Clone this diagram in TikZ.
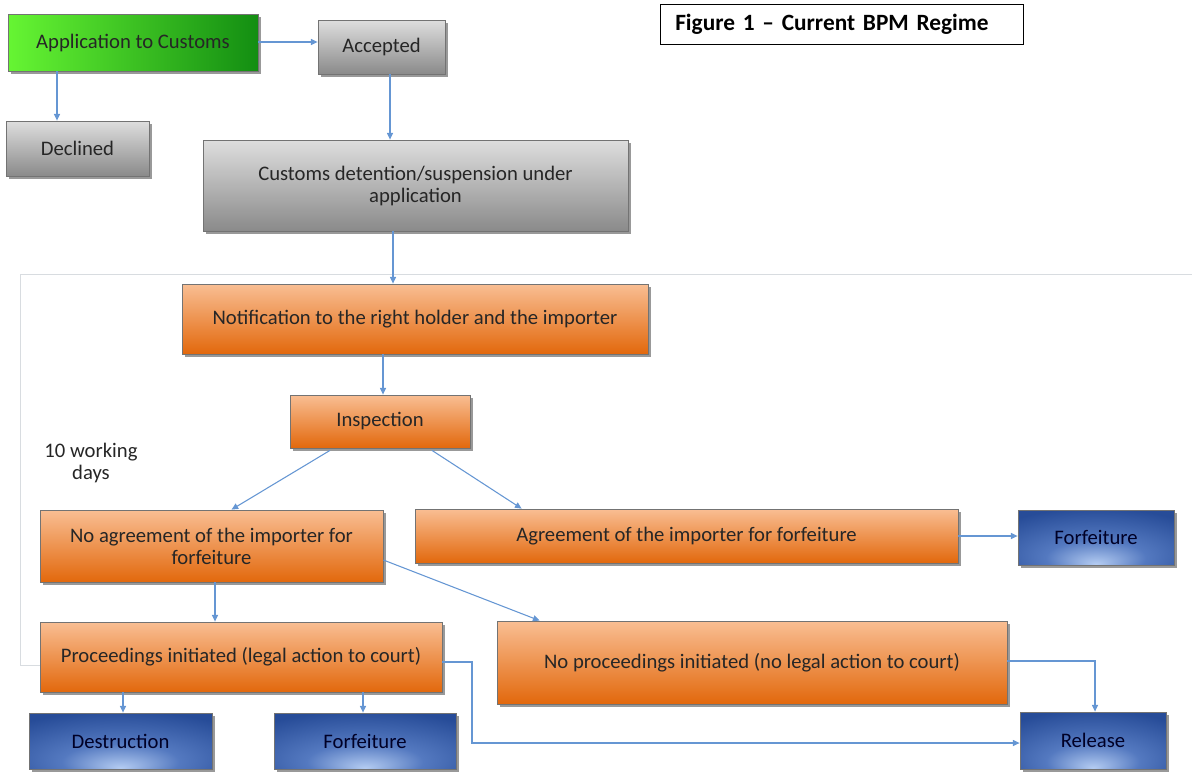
\documentclass[tikz,border=0pt]{standalone}
\usepackage{fontspec}
\setmainfont{Carlito}
\usetikzlibrary{arrows.meta,shadows,calc}
\definecolor{grnA}{HTML}{66F533}
\definecolor{grnB}{HTML}{138E12}
\definecolor{gryA}{HTML}{DEDEDE}
\definecolor{gryB}{HTML}{8A8A8A}
\definecolor{orgA}{HTML}{F9BE93}
\definecolor{orgB}{HTML}{E2680C}
\definecolor{bluO}{HTML}{274C98}
\definecolor{bluM}{HTML}{5479C0}
\definecolor{bluI}{HTML}{B4CCF2}
\definecolor{arr}{HTML}{6596D3}
\definecolor{frm}{HTML}{D8DCE0}
\pgfdeclareradialshading{bluespot}{\pgfpoint{0bp}{-24bp}}{color(0bp)=(bluI); color(16bp)=(bluM); color(38bp)=(bluO); color(70bp)=(bluO)}
\newcommand\bx[7]{\node[#1, minimum width={(#5-#3)*0.75pt}, minimum height={(#6-#4)*0.75pt}] (#2) at ({(#3+#5)/2},{(#4+#6)/2}) {#7};}
\begin{document}
\begin{tikzpicture}[x=0.75pt,y=-0.75pt,
  box/.style={draw=black!55, line width=0.6pt, inner sep=0pt, align=center,
    font=\fontsize{15.5}{16.5}\selectfont, text=black!85,
    drop shadow={shadow xshift=2pt, shadow yshift=-2pt, opacity=0.4, fill=black}},
  greenbox/.style={box, left color=grnA, right color=grnB},
  graybox/.style={box, top color=gryA, bottom color=gryB},
  orangebox/.style={box, top color=orgA, bottom color=orgB},
  bluebox/.style={box, shading=bluespot, text=black!85!blue},
  conn/.style={draw=arr, line width=0.8pt, -{Triangle[length=5pt,width=4.5pt]}},
]
\useasboundingbox (0,0) rectangle (1192,771);

% frame line
\draw[frm, line width=0.7pt] (1192,274) -- (20,274) -- (20,665) -- (40,665);

% title
\node[draw=black, line width=0.9pt, fill=white, anchor=north west, minimum width=272pt, minimum height=30pt,
  inner xsep=11pt, text width=250pt, align=left, font=\fontsize{17.5}{20}\selectfont\bfseries] (title) at (660,4) {Figure 1 -- Current BPM Regime};

% nodes
\bx{greenbox}{app}{8}{14}{258}{71}{Application to Customs}
\bx{graybox}{acc}{318}{20}{445}{74}{Accepted}
\bx{graybox}{dec}{6}{121}{149}{176}{Declined}
\bx{graybox}{det}{203}{140}{628}{231}{Customs detention/suspension under\\application}
\bx{orangebox}{note}{182}{284}{648}{354}{Notification to the right holder and the importer}
\bx{orangebox}{insp}{290}{395}{470}{448}{Inspection}
\bx{orangebox}{noagr}{40}{510}{383}{582}{No agreement of the importer for\\forfeiture}
\bx{orangebox}{agr}{415}{509}{958}{563}{Agreement of the importer for forfeiture}
\bx{bluebox}{forf1}{1018}{510}{1174}{565}{Forfeiture}
\bx{orangebox}{proc}{40}{622}{442}{692}{Proceedings initiated (legal action to court)}
\bx{orangebox}{noproc}{497}{621}{1007}{704}{No proceedings initiated (no legal action to court)}
\bx{bluebox}{destr}{29}{713}{212}{769}{Destruction}
\bx{bluebox}{forf2}{274}{713}{456}{769}{Forfeiture}
\bx{bluebox}{rel}{1020}{712}{1166}{769}{Release}

\node[font=\fontsize{15.5}{16.5}\selectfont, align=center, text=black!85] (days) at (91,463) {10 working\\days};

% connectors
\draw[conn] (app.east |- 0,42) -- (acc.west |- 0,42);
\draw[conn] (app.south -| 57,0) -- (dec.north -| 57,0);
\draw[conn] (acc.south -| 390,0) -- (det.north -| 390,0);
\draw[conn] (det.south -| 393,0) -- (note.north -| 393,0);
\draw[conn] (note.south -| 383,0) -- (insp.north -| 383,0);
\draw[conn] ($(insp.south)+(-50,2)$) -- ($(noagr.north)+(20,0)$);
\draw[conn] ($(insp.south)+(52,2)$) -- ($(agr.north west)+(107,0)$);
\draw[conn] (agr.east) -- (forf1.west |- agr.east);
\draw[conn] (noagr.south -| 215,0) -- (proc.north -| 215,0);
\draw[conn] ($(noagr.east)+(0,14)$) -- ($(noproc.north west)+(43,0)$);
\draw[conn] (proc.south -| 123,0) -- (destr.north -| 123,0);
\draw[conn] (proc.south -| 363,0) -- (forf2.north -| 363,0);
\draw[conn] (proc.east |- 0,662) -- (472,662) -- (472,743) -- (rel.west |- 0,743);
\draw[conn] (noproc.east |- 0,661) -- (1095,661) -- (rel.north -| 1095,0);
\end{tikzpicture}
\end{document}
